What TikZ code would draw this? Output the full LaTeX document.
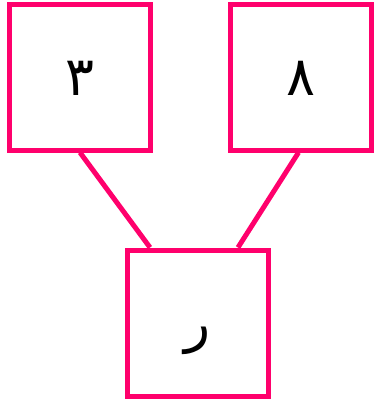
\documentclass[tikz,border=0pt]{standalone}
\usepackage{fontspec}
\usepackage{xcolor}
\usetikzlibrary{positioning}
\TeXXeTstate=1
\newfontfamily\arabicfont[Script=Arabic]{DejaVu Sans}
\definecolor{treepink}{RGB}{255, 0, 108}

\begin{document}
\begin{tikzpicture}[
    x=1pt, y=1pt,
    box/.style={
        rectangle,
        draw=treepink,
        fill=white,
        line width=5pt,
        minimum width=141pt,
        minimum height=146pt,
        text height=36pt,
        text depth=0pt,
        inner sep=0pt,
        font=\arabicfont\fontsize{54}{58}\selectfont
    },
    link/.style={
        draw=treepink,
        line width=5pt
    }
]

% Fixed canvas
\useasboundingbox (0,0) rectangle (375,-402);

% Boxes
\node[box] (three) at (80,-77) {\beginR ۳\endR};
\node[box] (eight) at (300.5,-77) {\beginR ۸\endR};
\node[box] (reh) at (198,-323) {\beginR ر\endR};

% Connections
\draw[link] (three.south) -- ([xshift=-48pt]reh.north);
\draw[link] ([xshift=-2pt]eight.south) -- ([xshift=40pt]reh.north);

\end{tikzpicture}
\end{document}
